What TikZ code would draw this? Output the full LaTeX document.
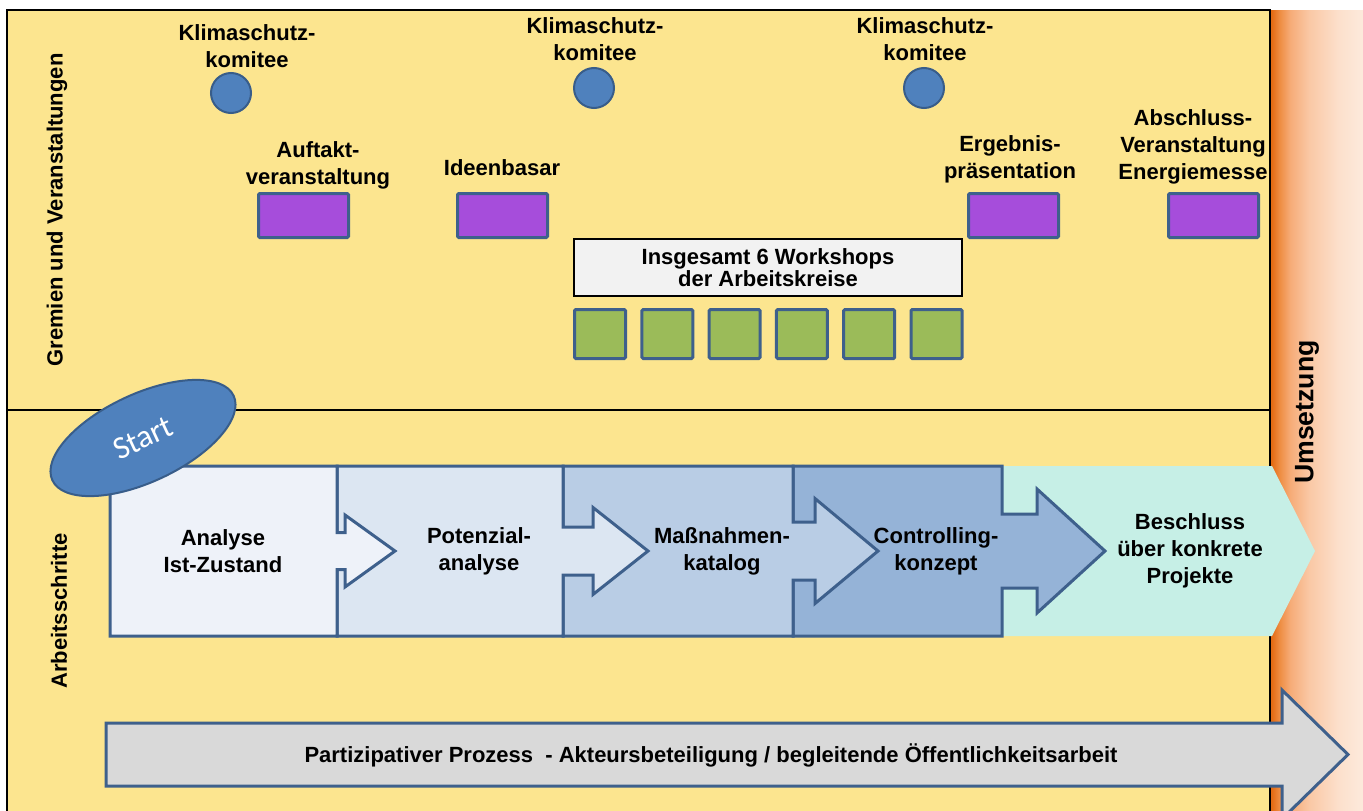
\documentclass[tikz,border=0pt]{standalone}
\usepackage{fontspec}
\setmainfont{Liberation Sans}
\newfontfamily\startfont{Carlito}
\usetikzlibrary{shapes.geometric}

\definecolor{panelyellow}{RGB}{252,229,143}
\definecolor{kblue}{RGB}{79,129,189}
\definecolor{circleblue}{RGB}{56,93,138}
\definecolor{frameblue}{RGB}{62,96,140}
\definecolor{eventpurple}{RGB}{166,77,219}
\definecolor{wsgreen}{RGB}{155,187,89}
\definecolor{wsgray}{RGB}{242,242,242}
\definecolor{step1}{RGB}{238,242,249}
\definecolor{step2}{RGB}{220,230,242}
\definecolor{step3}{RGB}{185,205,229}
\definecolor{step4}{RGB}{149,179,215}
\definecolor{mintgreen}{RGB}{198,239,230}
\definecolor{arrowgray}{RGB}{217,217,217}
\definecolor{orA}{RGB}{228,108,20}
\definecolor{orB}{RGB}{238,140,65}
\definecolor{orC}{RGB}{246,172,120}
\definecolor{orD}{RGB}{250,200,165}
\definecolor{orE}{RGB}{252,224,204}
\definecolor{orF}{RGB}{253,234,220}

\pgfdeclarehorizontalshading{umsetzungshade}{100bp}{color(0bp)=(orA); color(26bp)=(orA);
  color(30bp)=(orB); color(36bp)=(orC); color(46bp)=(orD); color(62bp)=(orE);
  color(75bp)=(orF); color(100bp)=(orF)}

\begin{document}
\begin{tikzpicture}[
    x=0.75pt, y=-0.75pt,
    font=\bfseries\fontsize{16.5}{20.25}\selectfont,
    lbl/.style={align=center, inner sep=0pt},
    komitee/.style={circle, draw=circleblue, line width=1.5pt, fill=kblue,
                    minimum size=30pt, inner sep=0pt},
    event/.style={draw=frameblue, line width=2.25pt, fill=eventpurple,
                  minimum width=67.5pt, minimum height=33pt, rounded corners=1pt},
    ws/.style={draw=frameblue, line width=2.25pt, fill=wsgreen,
               minimum width=38.25pt, minimum height=36.75pt, rounded corners=1pt},
    stepline/.style={draw=frameblue, line width=2.25pt, line join=miter},
]
    \useasboundingbox (0,0) rectangle (1363,810);
    \clip (0,0) rectangle (1363,810);

    % --- Background: panel and Umsetzung bar ---
    \shade[shading=umsetzungshade] (1270,10) rectangle (1363,810);
    \draw[fill=panelyellow, line width=1.5pt] (7,10) rectangle (1270,815);
    \draw[line width=1pt] (7,410) -- (1270,410);

    \node[lbl, rotate=90] (gremien) at (57,210) {Gremien und Veranstaltungen};
    \node[lbl, rotate=90] (arbeit)  at (59,611) {Arbeitsschritte};
    \node[lbl, rotate=90, font=\bfseries\fontsize{20}{24}\selectfont] (umsetzung) at (1307,412) {Umsetzung};

    % --- Gremien: committees and events ---
    \node[komitee] (kk1) at (231,93) {};
    \node[komitee] (kk2) at (594,88) {};
    \node[komitee] (kk3) at (924,88) {};
    \node[lbl] (kk1lbl) at (247,46) {Klimaschutz-\\komitee};
    \node[lbl] (kk2lbl) at (595,39) {Klimaschutz-\\komitee};
    \node[lbl] (kk3lbl) at (925,39) {Klimaschutz-\\komitee};

    \node[event] (auftakt)   at (303.5,215.5) {};
    \node[event] (basar)     at (502.5,215.5) {};
    \node[event] (ergebnis)  at (1013.5,215.5) {};
    \node[event] (abschluss) at (1213.5,215.5) {};
    \node[lbl] (auftaktlbl)   at (318,165) {Auftakt-\\veranstaltung};
    \node[lbl] (basarlbl)     at (502,168) {Ideenbasar};
    \node[lbl] (ergebnislbl)  at (1010,159) {Ergebnis-\\präsentation};
    \node[lbl] (abschlusslbl) at (1193,147) {Abschluss-\\Veranstaltung\\Energiemesse};

    % --- Workshops ---
    \node[draw, line width=1.2pt, fill=wsgray, align=center,
          minimum width=291pt, minimum height=42.75pt,
          font=\bfseries\fontsize{16.5}{16.5}\selectfont] (workshops) at (768,267.5)
          {Insgesamt 6 Workshops\\der Arbeitskreise};
    \foreach \i in {0,...,5}
        \node[ws] (ws\i) at (600+67.3*\i,334) {};

    % --- Arbeitsschritte, drawn right to left so each arrow lies on top ---
    \fill[mintgreen] (990,466) -- (1272,466) -- (1315,551) -- (1272,636) -- (990,636) -- cycle;
    \foreach \xl/\xr/\xs/\xt/\hh/\sh/\fc in {793/1002/1037/1105/62/37/step4,
                                             563/793/815/878/52.5/29/step3,
                                             337/563/593/648/43.5/24/step2,
                                             110/337/345/395/36/18.5/step1}
        \draw[stepline, fill=\fc] (\xl,466) -- (\xr,466) -- (\xr,551-\sh) -- (\xs,551-\sh)
            -- (\xs,551-\hh) -- (\xt,551) -- (\xs,551+\hh) -- (\xs,551+\sh)
            -- (\xr,551+\sh) -- (\xr,636) -- (\xl,636) -- cycle;

    \node[lbl] (analyse)     at (223,551)  {Analyse\\Ist-Zustand};
    \node[lbl] (potenzial)   at (479,551)  {Potenzial-\\analyse};
    \node[lbl] (massnahmen)  at (722,551)  {Maßnahmen-\\katalog};
    \node[lbl] (controlling) at (936,551)  {Controlling-\\konzept};
    \node[lbl] (beschluss)   at (1190,551) {Beschluss\\über konkrete\\Projekte};

    \node[ellipse, draw=circleblue, line width=1.5pt, fill=kblue, text=white,
          minimum width=150pt, minimum height=66pt, rotate=25, inner sep=0pt,
          font=\startfont\fontsize{24}{28}\selectfont] (start) at (143,438) {Start};

    % --- Participation arrow ---
    \draw[stepline, fill=arrowgray] (106,723) -- (1282,723) -- (1282,690) -- (1348,754.5)
        -- (1282,819) -- (1282,786) -- (106,786) -- cycle;
    \node[lbl, font=\bfseries\fontsize{16.5}{20}\selectfont] (prozess) at (711,755)
        {Partizipativer Prozess\ \ - Akteursbeteiligung / begleitende Öffentlichkeitsarbeit};
\end{tikzpicture}
\end{document}
